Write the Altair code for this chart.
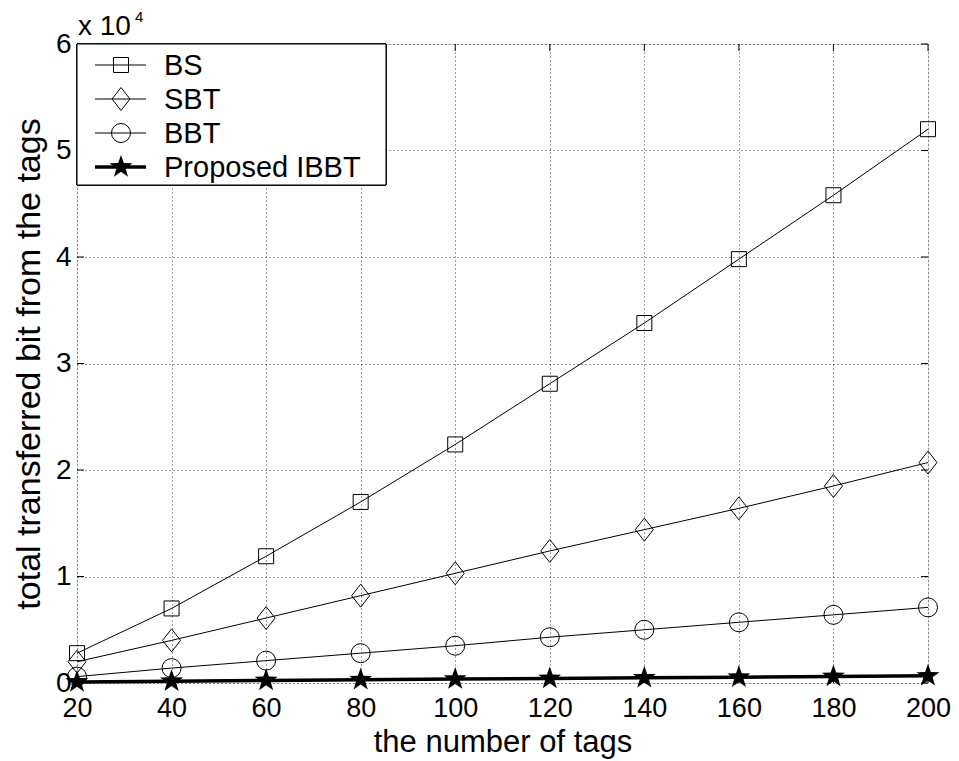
import math
import altair as alt
import pandas as pd

# ---------------- data ----------------
x_vals = [20, 40, 60, 80, 100, 120, 140, 160, 180, 200]
bs = [2800, 7000, 11900, 17000, 22400, 28100, 33800, 39800, 45800, 52000]
sbt = [2000, 4000, 6100, 8200, 10300, 12400, 14400, 16400, 18500, 20700]
bbt = [600, 1400, 2100, 2800, 3500, 4300, 5000, 5700, 6400, 7100]
ibbt = [100, 170, 240, 310, 370, 430, 490, 550, 610, 670]
series_names = ["BS", "SBT", "BBT", "Proposed IBBT"]
x_ticks = [20, 40, 60, 80, 100, 120, 140, 160, 180, 200]
y_ticks = [0, 10000, 20000, 30000, 40000, 50000, 60000]
x_title = "the number of tags"
y_title = "total transferred bit from the tags"
exp_base = "x 10"
exp_power = "4"

# ---------------- styling ----------------
W, H = 851, 639
FONT = "Liberation Sans"
xs = alt.Scale(domain=[20, 200], nice=False, zero=False)
ys = alt.Scale(domain=[0, 60000], nice=False)

diamond = "M0,-1.35L1.06,0L0,1.35L-1.06,0Z"
pts = []
for i in range(10):
    r = 1.0 if i % 2 == 0 else 0.4
    a = math.radians(-90 + 36 * i)
    pts.append(f"{r*math.cos(a):.4f},{r*math.sin(a):.4f}")
star = "M" + "L".join(pts) + "Z"

styles = {
    "BS": dict(shape="square", size=225, filled=False, sw=1.0),
    "SBT": dict(shape=diamond, size=289, filled=False, sw=1.0),
    "BBT": dict(shape="circle", size=361, filled=False, sw=1.0),
    "Proposed IBBT": dict(shape=star, size=580, filled=True, sw=3.5),
}
values = {"BS": bs, "SBT": sbt, "BBT": bbt, "Proposed IBBT": ibbt}


def marker(data, st):
    if st["filled"]:
        return alt.Chart(data).mark_point(shape=st["shape"], size=st["size"], filled=True,
                                          color="black", opacity=1)
    return alt.Chart(data).mark_point(shape=st["shape"], size=st["size"], filled=False,
                                      color="black", strokeWidth=1, opacity=1)


# ---------------- axes layer ----------------
axis_df = pd.DataFrame({"x": x_vals, "y": bs})
base = alt.Chart(axis_df).mark_point(opacity=0).encode(
    x=alt.X("x:Q", scale=xs, axis=alt.Axis(
        values=x_ticks, grid=True, gridDash=[1, 3], gridColor="#000000",
        gridOpacity=0.75, ticks=False, domain=False,
        labelFont=FONT, labelFontSize=27, labelColor="black",
        labelBaseline="alphabetic", labelPadding=33, labelFlush=False,
        title=x_title, titleFont=FONT, titleFontSize=31,
        titleFontWeight="normal", titleColor="black",
        titleX=W / 2, titleY=68, titleBaseline="alphabetic")),
    y=alt.Y("y:Q", scale=ys, axis=alt.Axis(
        values=y_ticks, labelExpr="datum.value / 10000", grid=True,
        gridDash=[1, 3], gridColor="#000000", gridOpacity=0.75,
        ticks=False, domain=False,
        labelFont=FONT, labelFontSize=28, labelColor="black",
        labelPadding=6, labelFlush=False,
        title=y_title, titleFont=FONT, titleFontSize=34,
        titleFontWeight="normal", titleColor="black",
        titleX=-38, titleY=H / 2, titleBaseline="alphabetic")),
)

layers = [base]

# inward ticks on four sides
xt_df = pd.DataFrame({"x": x_ticks})
yt_df = pd.DataFrame({"y": y_ticks})
TK = 7
layers.append(alt.Chart(xt_df).mark_rule(color="black", strokeWidth=1).encode(
    x=alt.X("x:Q", scale=xs), y=alt.value(H), y2=alt.value(H - TK)))
layers.append(alt.Chart(xt_df).mark_rule(color="black", strokeWidth=1).encode(
    x=alt.X("x:Q", scale=xs), y=alt.value(0), y2=alt.value(TK)))
layers.append(alt.Chart(yt_df).mark_rule(color="black", strokeWidth=1).encode(
    y=alt.Y("y:Q", scale=ys), x=alt.value(0), x2=alt.value(TK)))
layers.append(alt.Chart(yt_df).mark_rule(color="black", strokeWidth=1).encode(
    y=alt.Y("y:Q", scale=ys), x=alt.value(W), x2=alt.value(W - TK)))

# series
for name in series_names:
    st = styles[name]
    d = pd.DataFrame({"x": x_vals, "y": values[name]})
    layers.append(alt.Chart(d).mark_line(color="black", strokeWidth=st["sw"]).encode(
        x=alt.X("x:Q", scale=xs), y=alt.Y("y:Q", scale=ys)))
    layers.append(marker(d, st).encode(
        x=alt.X("x:Q", scale=xs), y=alt.Y("y:Q", scale=ys)))

# legend box
leg = pd.DataFrame({"name": series_names})
layers.append(alt.Chart(leg).mark_rect(fill="white", stroke="black", strokeWidth=1).encode(
    x=alt.value(0), x2=alt.value(309), y=alt.value(0), y2=alt.value(141)))
leg_y = [21, 55, 89, 123]
for name, yy in zip(series_names, leg_y):
    st = styles[name]
    ld = pd.DataFrame({"name": [name]})
    layers.append(alt.Chart(ld).mark_rule(color="black", strokeWidth=st["sw"]).encode(
        x=alt.value(18), x2=alt.value(69), y=alt.value(yy)))
    layers.append(marker(ld, st).encode(x=alt.value(44), y=alt.value(yy)))
    layers.append(alt.Chart(ld).mark_text(align="left", baseline="alphabetic", font=FONT,
                                          fontSize=29, color="black").encode(
        x=alt.value(87), y=alt.value(yy + 10), text="name:N"))

# exponent label
ed = pd.DataFrame({"t": [exp_base], "e": [exp_power]})
layers.append(alt.Chart(ed).mark_text(align="left", baseline="alphabetic", font=FONT,
                                      fontSize=28, color="black").encode(
    x=alt.value(1), y=alt.value(-9), text="t:N"))
layers.append(alt.Chart(ed).mark_text(align="left", baseline="alphabetic", font=FONT,
                                      fontSize=15, color="black").encode(
    x=alt.value(58), y=alt.value(-22), text="e:N"))

chart = alt.layer(*layers).properties(
    width=W, height=H, autosize="none",
    padding={"left": 69, "top": 36, "right": 959 - 16 - 69 - W, "bottom": 80},
).configure_view(stroke="black", strokeWidth=1).configure(background="white")

chart.save("out.html", embed_options={"renderer": "svg", "actions": False})
